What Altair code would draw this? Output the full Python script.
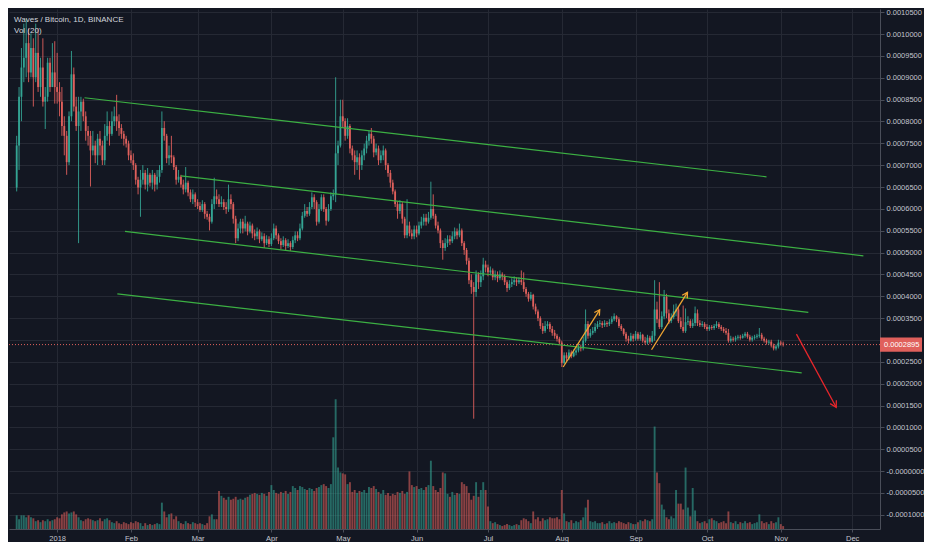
import altair as alt
import numpy as np
import pandas as pd

# Prices are in units of 1e-7 BTC (2895 -> 0.0002895 BTC)
FIRST_OPEN = 6489
START_DATE = "2017-12-15"

close_dec = [7449, 8565, 9235, 9458, 9793, 9123, 9681, 9012, 9570, 8788, 9235, 8454, 8565, 9346, 8788, 9123, 8788]
high_dec = [7672, 8788, 9681, 10239, 10351, 10128, 10016, 9904, 10239, 10128, 9458, 9904, 8788, 9458, 9458, 9793, 9837]
low_dec = [6400, 6891, 8007, 8900, 9012, 8900, 9012, 8342, 8900, 8677, 8565, 8342, 7829, 8454, 8677, 8788, 8409]

close_jan = [8677, 8454, 7896, 7672, 7070, 8119, 9079, 8342, 7896, 8230, 8454, 8119, 7784, 7672, 7338, 7449,
             7226, 7605, 7449, 7114, 7672, 7896, 7717, 8007, 8119, 8007, 7851, 7717, 7605, 7494, 7226]
high_jan = [9570, 8900, 8788, 8119, 7784, 8230, 9614, 9235, 8565, 8565, 8565, 8521, 8230, 7896, 7784, 7784,
            7561, 7717, 7784, 7561, 7940, 8230, 8007, 8230, 8342, 8610, 8163, 7940, 7784, 7672, 7561]
low_jan = [8409, 8119, 7672, 7226, 6780, 7003, 8007, 8230, 7784, 5217, 7784, 8007, 7561, 7449, 6512, 7226,
           7047, 7003, 7226, 7003, 7003, 7561, 7449, 7672, 7896, 7784, 7672, 7605, 7449, 7405, 7114]

close_feb = [7114, 7003, 6668, 6489, 6668, 6824, 6556, 6780, 6601, 6780, 6556, 6735, 6891, 7851,
             7672, 7159, 7226, 7181, 6958, 6668, 6735, 6556, 6445, 6601, 6378, 6222, 6333, 6155]
high_feb = [7338, 7271, 7047, 6735, 6891, 7003, 6891, 6936, 6824, 6891, 6824, 6891, 7003, 8230,
            8007, 7717, 7449, 7672, 7226, 7003, 6891, 6780, 6668, 6958, 6646, 6445, 6445, 6378]
low_feb = [7047, 6891, 6556, 6333, 5820, 6556, 6445, 6400, 6512, 6445, 6400, 6445, 6601, 6824,
           7561, 7047, 7003, 7047, 6891, 6556, 6601, 6489, 6333, 6378, 6289, 6155, 6110, 6043]

close_mar = [6065, 5976, 6110, 5887, 5820, 5708, 6110, 6289, 6222, 6110, 6155, 6043, 5998, 6222, 6110, 5775,
             5329, 5552, 5708, 5552, 5664, 5485, 5619, 5440, 5373, 5485, 5306, 5373, 5217, 5306, 5195]
high_mar = [6222, 6155, 6199, 6155, 5954, 5887, 6222, 6713, 6445, 6333, 6289, 6222, 6155, 6556, 6333, 6155,
            5842, 5664, 5775, 5775, 5842, 5708, 5708, 5664, 5530, 5574, 5530, 5463, 5440, 5396, 5373]
low_mar = [5998, 5931, 5931, 5775, 5753, 5507, 5664, 5998, 6110, 6043, 6043, 5976, 5887, 5931, 5998, 5664,
           5217, 5262, 5440, 5440, 5485, 5396, 5440, 5329, 5284, 5306, 5217, 5262, 5106, 5173, 5128]

close_apr = [5329, 5552, 5396, 5262, 5173, 5284, 5150, 5217, 5128, 5284, 5396, 5329, 5552, 5842, 5954,
             5887, 6043, 6266, 6155, 5708, 5998, 6266, 5998, 5731, 5998, 6289, 6333, 7271, 7449, 8119]
high_apr = [5440, 5664, 5619, 5440, 5329, 5373, 5329, 5306, 5262, 5373, 5485, 5485, 5664, 5931, 6110,
            6043, 6155, 6378, 6333, 6199, 6110, 6333, 6333, 6043, 6110, 6378, 6445, 9012, 7561, 8498]
low_apr = [5150, 5284, 5306, 5195, 5083, 5128, 5061, 5106, 5039, 5083, 5217, 5262, 5284, 5507, 5798,
           5820, 5842, 5998, 5998, 5619, 5664, 5954, 5931, 5619, 5708, 5954, 6199, 6155, 7003, 7405]

close_may = [8007, 7672, 7896, 7382, 7226, 7070, 7181, 7003, 7226, 7382, 7561, 7717, 7605, 7293, 7382, 7114,
             7226, 7338, 7003, 6824, 6601, 6400, 6110, 5954, 6110, 5775, 5396, 5619, 5440, 5373, 5530]
high_may = [8498, 8074, 8074, 7940, 7449, 7338, 7338, 7271, 7338, 7494, 7672, 7784, 7851, 7672, 7494, 7449,
            7338, 7449, 7382, 7047, 6891, 6668, 6445, 6177, 6199, 6155, 5820, 6222, 5708, 5530, 5619]
low_may = [7851, 7561, 7605, 7271, 7114, 6780, 6891, 6668, 6891, 7114, 7271, 7449, 7494, 7181, 7226, 7003,
           7047, 7114, 6891, 6735, 6489, 6333, 6043, 5775, 5887, 5664, 5329, 5329, 5373, 5306, 5306]

close_jun = [5440, 5619, 5708, 5798, 5708, 5798, 5998, 5842, 5619, 5507, 5217, 5106, 5217, 5306, 5262,
             5373, 5485, 5396, 5507, 5217, 5061, 4815, 4369, 4213, 4101, 4503, 4324, 4458, 4726, 4659]
high_jun = [5619, 5708, 5820, 5887, 5887, 5931, 6623, 6333, 5887, 5708, 5552, 5284, 5329, 5396, 5396,
            5485, 5574, 5552, 5664, 5552, 5262, 5106, 4882, 4503, 4324, 4592, 4548, 4592, 4882, 4815]
low_jun = [5351, 5396, 5552, 5619, 5619, 5664, 5753, 5775, 5552, 5440, 5106, 4838, 5039, 5128, 5173,
           5217, 5306, 5306, 5351, 5150, 4949, 4726, 4280, 4057, 1200, 3990, 4168, 4213, 4369, 4548]

close_jul = [4548, 4592, 4436, 4503, 4414, 4503, 4458, 4324, 4190, 4280, 4324, 4369, 4324, 4369, 4324, 4168,
             4057, 3945, 4034, 3766, 3655, 3499, 3320, 3208, 3320, 3365, 3253, 3164, 3097, 3030, 2941]
high_jul = [4726, 4682, 4637, 4592, 4570, 4592, 4548, 4503, 4369, 4369, 4414, 4458, 4436, 4436, 4592, 4548,
            4213, 4101, 4101, 4057, 3833, 3699, 3543, 3387, 3432, 3432, 3409, 3320, 3231, 3141, 3074]
low_jul = [4458, 4481, 4369, 4369, 4324, 4369, 4369, 4257, 4101, 4146, 4213, 4257, 4235, 4280, 4257, 4101,
           3990, 3878, 3900, 3699, 3588, 3432, 3253, 3141, 3164, 3253, 3186, 3097, 3030, 2963, 2896]

close_aug = [2472, 2650, 2583, 2717, 2628, 2717, 2762, 2829, 2807, 2985, 3365, 3097, 3164, 3208, 3298, 3365,
             3387, 3342, 3387, 3365, 3409, 3476, 3543, 3476, 3320, 3253, 3141, 3030, 2985, 3097, 3030]
high_aug = [2985, 2717, 2717, 2784, 2762, 2784, 2851, 2918, 2896, 3074, 3699, 3432, 3253, 3298, 3387, 3432,
            3454, 3432, 3454, 3432, 3476, 3543, 3610, 3566, 3521, 3365, 3275, 3186, 3097, 3164, 3141]
low_aug = [2383, 2450, 2516, 2539, 2583, 2606, 2650, 2717, 2740, 2762, 2941, 3030, 3052, 3119, 3164, 3253,
           3298, 3275, 3298, 3298, 3320, 3365, 3432, 3409, 3275, 3208, 3097, 2963, 2918, 2963, 2963]

close_sep = [3141, 3030, 3119, 2985, 2941, 3052, 2963, 3097, 3699, 3476, 3298, 3543, 3990, 3610, 3432,
             3521, 3655, 3699, 3432, 3298, 3208, 3409, 3432, 3320, 3387, 3610, 3387, 3342, 3365, 3298]
high_sep = [3208, 3186, 3186, 3141, 3074, 3119, 3097, 3208, 4369, 3878, 4324, 3655, 4146, 4057, 3699,
            3610, 3811, 3833, 3766, 3521, 3789, 3722, 3543, 3476, 3476, 3766, 3699, 3454, 3432, 3409]
low_sep = [2985, 2985, 2985, 2941, 2896, 2896, 2918, 2941, 2985, 3387, 3253, 3253, 3476, 3499, 3365,
           3387, 3476, 3543, 3387, 3253, 3164, 3164, 3342, 3275, 3275, 3320, 3320, 3298, 3298, 3253]

close_oct = [3253, 3298, 3275, 3320, 3365, 3298, 3253, 3208, 3164, 2985, 3030, 3007, 3052, 3074, 3052, 3097,
             3141, 3074, 3007, 3052, 3074, 3097, 3119, 3030, 2985, 2941, 2963, 2874, 2807, 2851, 2941, 2918, 2895]
high_oct = [3365, 3342, 3342, 3365, 3432, 3409, 3342, 3298, 3275, 3253, 3097, 3074, 3097, 3119, 3119, 3141,
            3186, 3186, 3119, 3097, 3119, 3141, 3275, 3164, 3074, 3030, 3007, 3007, 2918, 2896, 3007, 2985, 2963]
low_oct = [3208, 3208, 3231, 3231, 3275, 3253, 3208, 3164, 3119, 2941, 2941, 2963, 2963, 3007, 3007, 3030,
           3052, 3030, 2963, 2963, 3007, 3030, 3052, 2985, 2941, 2896, 2896, 2829, 2762, 2762, 2807, 2874, 2851]

# volume (relative units)
vol_dec = [14, 10, 14, 14, 12, 14, 12, 11, 8, 9, 7, 9, 8, 10, 8, 9, 10]
vol_jan = [12, 11, 15, 17, 18, 16, 17, 18, 15, 12, 9, 8, 10, 11, 10, 9, 8, 9, 11, 8, 10, 11, 9, 7, 6, 8, 6, 5, 7, 6, 5]
vol_feb = [7, 6, 8, 7, 6, 3, 6, 4, 5, 4, 5, 6, 5, 27, 18, 12, 15, 16, 10, 13, 8, 6, 5, 8, 6, 5, 7, 6]
vol_mar = [5, 6, 5, 4, 6, 13, 15, 10, 10, 39, 34, 32, 30, 33, 30, 31, 33, 30, 31, 30, 32, 33, 35, 36, 37, 36,
           35, 37, 36, 34, 38]
vol_apr = [45, 40, 37, 36, 38, 37, 39, 36, 38, 44, 42, 40, 44, 43, 41, 40, 42, 41, 39, 42, 43, 45, 46, 44, 42,
           46, 94, 133, 63, 58]
vol_may = [57, 56, 46, 48, 38, 40, 37, 39, 38, 40, 37, 43, 42, 44, 41, 38, 36, 40, 35, 37, 34, 36, 35, 38, 37,
           39, 36, 38, 59, 45, 43]
vol_jun = [44, 41, 42, 40, 43, 45, 70, 44, 40, 38, 42, 58, 57, 36, 33, 38, 35, 37, 36, 48, 46, 44, 37, 30, 34,
           48, 33, 40, 48, 40]
vol_jul = [23, 8, 6, 7, 5, 4, 3, 4, 5, 4, 3, 4, 5, 4, 9, 11, 10, 8, 6, 18, 10, 12, 8, 11, 9, 10, 12, 11, 11, 12, 10]
vol_aug = [40, 16, 8, 7, 9, 6, 8, 7, 9, 12, 22, 30, 8, 7, 8, 6, 6, 7, 5, 6, 8, 6, 7, 6, 8, 7, 6, 5, 7, 6, 5]
vol_sep = [5, 7, 9, 8, 10, 9, 8, 10, 105, 58, 47, 25, 20, 12, 10, 13, 11, 40, 26, 26, 20, 63, 22, 13, 42, 19,
           8, 6, 7, 8]
vol_oct = [6, 10, 11, 9, 8, 6, 7, 8, 6, 18, 7, 6, 8, 5, 7, 6, 8, 6, 7, 5, 6, 7, 15, 8, 6, 7, 5, 8, 6, 7, 12, 5, 3]

# trend lines (green channel lines)
line_id = ["l1", "l1", "l2", "l2", "l3", "l3", "l4", "l4"]
line_date = ["2018-01-12T12:00:00Z", "2018-10-26T00:00:00Z",
             "2018-02-22T00:00:00Z", "2018-12-05T17:00:00Z",
             "2018-01-29T12:00:00Z", "2018-11-12T14:00:00Z",
             "2018-01-26T07:00:00Z", "2018-11-09T19:00:00Z"]
line_price = [8543, 6735, 6757, 4927, 5485, 3633, 4057, 2249]

# arrows
orange_id = ["a1", "a1", "a2", "a2"]
orange_date = ["2018-08-01T14:00:00Z", "2018-08-16T22:00:00Z",
               "2018-09-07T17:00:00Z", "2018-09-22T19:00:00Z"]
orange_price = [2383, 3692, 2778, 4090]
red_date = ["2018-11-07T14:00:00Z", "2018-11-24T07:00:00Z"]
red_price = [3135, 1461]

month_ticks = [alt.DateTime(year=2018, month=m, date=1, utc=True) for m in range(1, 13)]
price_ticks = list(range(-1000, 10501, 500))

# ---------------------------------------------------------------
close = close_dec + close_jan + close_feb + close_mar + close_apr + close_may + close_jun + close_jul + close_aug + close_sep + close_oct
high = high_dec + high_jan + high_feb + high_mar + high_apr + high_may + high_jun + high_jul + high_aug + high_sep + high_oct
low = low_dec + low_jan + low_feb + low_mar + low_apr + low_may + low_jun + low_jul + low_aug + low_sep + low_oct
vol = vol_dec + vol_jan + vol_feb + vol_mar + vol_apr + vol_may + vol_jun + vol_jul + vol_aug + vol_sep + vol_oct
n = min(len(close), len(high), len(low), len(vol))
close, high, low, vol = close[:n], high[:n], low[:n], vol[:n]
opens = [FIRST_OPEN] + close[:-1]
dates = pd.date_range(START_DATE, periods=n, freq="D")
df = pd.DataFrame({
    "date": dates.strftime("%Y-%m-%dT00:00:00Z"),
    "open": opens, "close": close, "high": high, "low": low, "volume": vol,
})
df["high"] = df[["high", "open", "close"]].max(axis=1)
df["low"] = df[["low", "open", "close"]].min(axis=1)
df["dir"] = np.where(df["close"] >= df["open"], "up", "down")

lines_df = pd.DataFrame({"line": line_id, "date": line_date, "price": line_price})
orange_df = pd.DataFrame({"arrow": orange_id, "date": orange_date, "price": orange_price})
red_df = pd.DataFrame({"date": red_date, "price": red_price})
last_close = close[-1]
last_df = pd.DataFrame({"price": [last_close], "label": [f"{last_close * 1e-7:.7f}"]})

BG = "#131722"
GRID = "#252934"
UP = "#34a594"
DOWN = "#e0605c"
LBL = "#c3c6ce"
FONT = "Liberation Sans"

xscale = alt.Scale(type="utc", domain=[alt.DateTime(year=2017, month=12, date=13, hours=21, utc=True),
                                       alt.DateTime(year=2018, month=12, date=10, hours=14, utc=True)])
yscale = alt.Scale(domain=[-1324, 10574], nice=False, zero=False)
cscale = alt.Scale(domain=["up", "down"], range=[UP, DOWN])

xaxis = alt.Axis(values=month_ticks, grid=True, gridColor=GRID, tickSize=3, labelPadding=2,
                 labelExpr="utcFormat(datum.value, '%m') == '01' ? utcFormat(datum.value, '%Y') : utcFormat(datum.value, '%b')",
                 labelOverlap=False, labelFlush=False, title=None)
yaxis = alt.Axis(orient="right", values=price_ticks, grid=True, gridColor=GRID, tickSize=4, labelPadding=2,
                 labelExpr="(datum.value <= 0 ? '-' : '') + format(abs(datum.value) / 1e7, '.7f')",
                 labelOverlap=False, labelFlush=False, title=None)


def X():
    return alt.X("date:T", title=None, scale=xscale, axis=xaxis)


def Y(field):
    return alt.Y(field, title=None, scale=yscale, axis=yaxis)


volume = alt.Chart(df).mark_bar(size=1.9, opacity=0.58).encode(
    x=X(),
    y=alt.Y("volume:Q", scale=alt.Scale(domain=[0, 533], nice=False, zero=True), axis=None),
    color=alt.Color("dir:N", scale=cscale, legend=None),
)

last_rule = alt.Chart(last_df).mark_rule(color=DOWN, strokeDash=[1, 2], strokeWidth=1).encode(
    y=Y("price:Q"))

wicks = alt.Chart(df).mark_rule(strokeWidth=0.9).encode(
    x=X(), y=Y("low:Q"), y2="high:Q",
    color=alt.Color("dir:N", scale=cscale, legend=None),
)
bodies = alt.Chart(df).mark_bar(size=1.8).encode(
    x=X(), y=Y("open:Q"), y2="close:Q",
    color=alt.Color("dir:N", scale=cscale, legend=None),
)
trend = alt.Chart(lines_df).mark_line(color="#3cb043", strokeWidth=1.2).encode(
    x=X(), y=Y("price:Q"), detail="line:N")

ORANGE = "#f0a532"
RED = "#e8262b"
orange_lines = alt.Chart(orange_df).mark_line(color=ORANGE, strokeWidth=1.3).encode(
    x=X(), y=Y("price:Q"), detail="arrow:N")
red_line = alt.Chart(red_df).mark_line(color=RED, strokeWidth=1.3).encode(
    x=X(), y=Y("price:Q"))

CHEVRON = "M-0.75,1.3L0,0L0.75,1.3"
head1 = alt.Chart(orange_df.iloc[[1]]).mark_point(shape=CHEVRON, size=64, filled=False, color=ORANGE,
                                                  strokeWidth=1.3, opacity=1, angle=33).encode(
    x=X(), y=Y("price:Q"))
head2 = alt.Chart(orange_df.iloc[[3]]).mark_point(shape=CHEVRON, size=64, filled=False, color=ORANGE,
                                                  strokeWidth=1.3, opacity=1, angle=32).encode(
    x=X(), y=Y("price:Q"))
head3 = alt.Chart(red_df.iloc[[1]]).mark_point(shape=CHEVRON, size=90, filled=False, color=RED,
                                               strokeWidth=1.3, opacity=1, angle=151).encode(
    x=X(), y=Y("price:Q"))

BOX = "M-1,-0.34L1,-0.34L1,0.34L-1,0.34Z"
price_box = alt.Chart(last_df).mark_point(shape=BOX, size=1764, filled=True, color=DOWN, opacity=1).encode(
    x=alt.value({"expr": "width + 21"}), y=Y("price:Q"))
price_text = alt.Chart(last_df).mark_text(align="left", baseline="middle", color="#ffffff",
                                          font=FONT, fontSize=7.5).encode(
    x=alt.value({"expr": "width + 4"}), y=Y("price:Q"), text="label:N")

price_layer = alt.layer(last_rule, wicks, bodies, trend, orange_lines, red_line, head1, head2, head3,
                        price_box, price_text)

title_df = pd.DataFrame({"t": ["Waves / Bitcoin, 1D, BINANCE"]})
vol_df = pd.DataFrame({"t": ["Vol (20)"]})
title1 = alt.Chart(title_df).mark_text(align="left", baseline="middle", color="#d1d4dc", font=FONT,
                                       fontSize=8).encode(x=alt.value(5), y=alt.value(11), text="t:N")
title2 = alt.Chart(vol_df).mark_text(align="left", baseline="middle", color="#d1d4dc", font=FONT,
                                     fontSize=8).encode(x=alt.value(5), y=alt.value(22), text="t:N")

chart = alt.layer(volume, price_layer, title1, title2).resolve_scale(y="independent").properties(
    width=916, height=534,
    autosize=alt.AutoSizeParams(type="fit", contains="padding"),
    padding=0,
    background=BG,
).configure_view(stroke=None).configure_axis(
    domainColor="#4a4e59", tickColor="#4a4e59", labelColor=LBL, labelFont=FONT, labelFontSize=7.5,
)

chart.save("out.html", embed_options={"renderer": "svg", "actions": False})
